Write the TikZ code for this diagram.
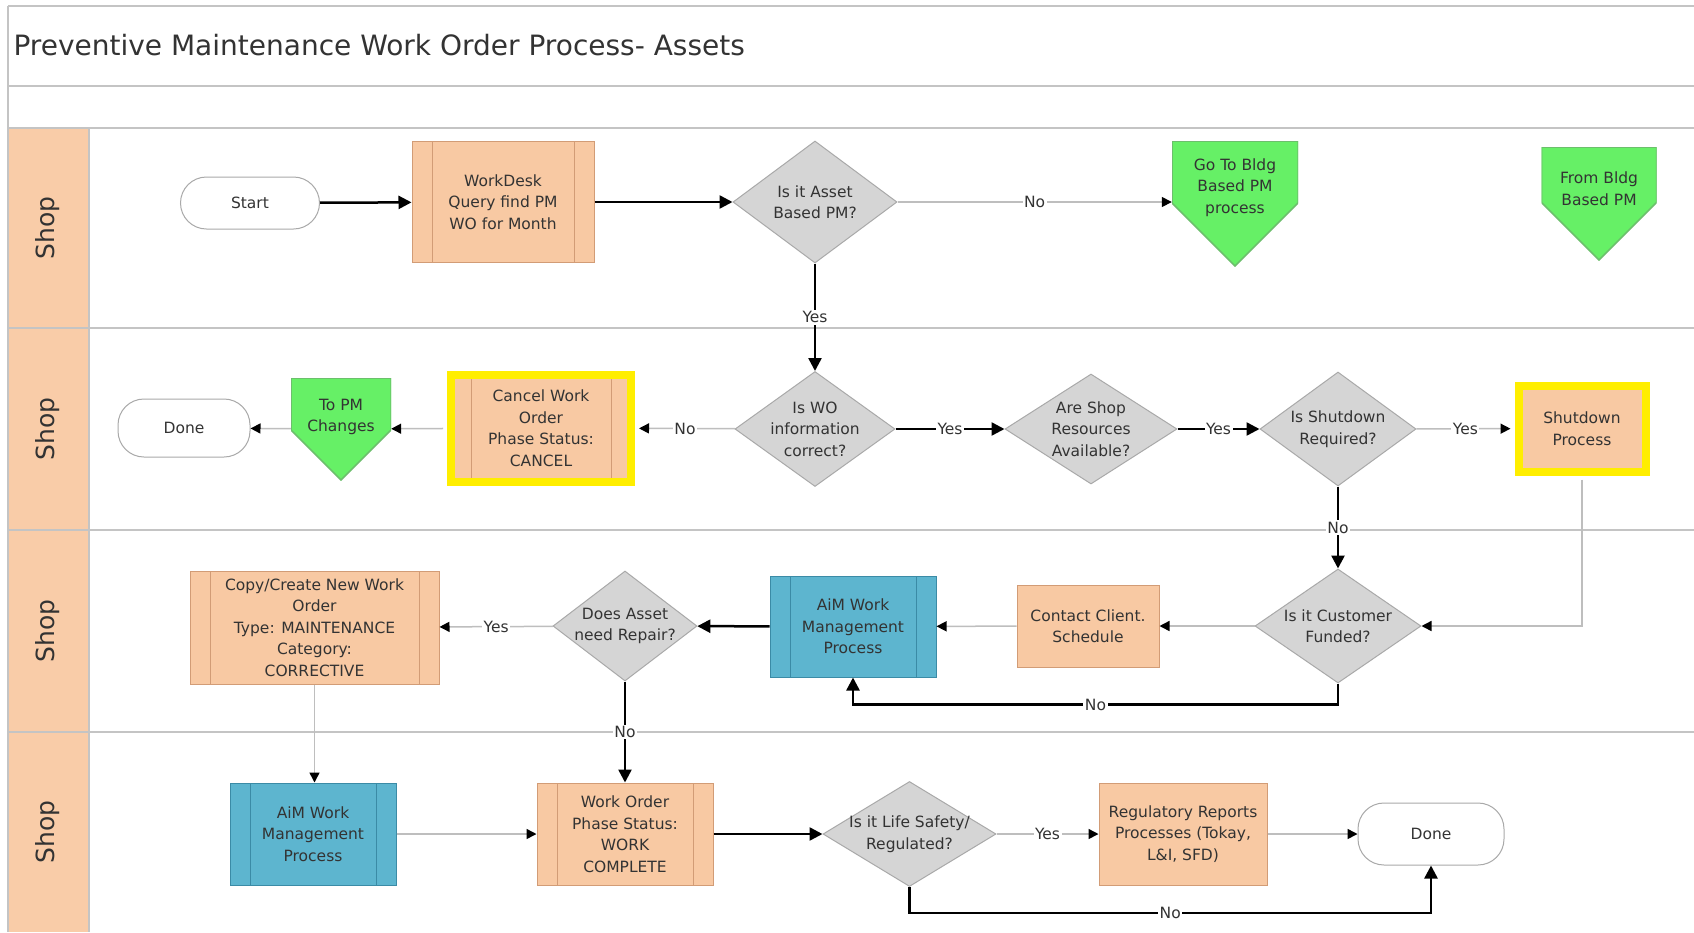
\documentclass[tikz,border=0pt]{standalone}
\usepackage{fontspec}
\setmainfont{DejaVu Sans}
\usetikzlibrary{shapes.geometric,arrows.meta,calc}

\definecolor{peach}{HTML}{F8C9A3}
\definecolor{peachline}{HTML}{D29C76}
\definecolor{lanefill}{HTML}{F9CCA8}
\definecolor{leaf}{HTML}{66F066}
\definecolor{leafline}{HTML}{6CBF6C}
\definecolor{qfill}{HTML}{D5D5D5}
\definecolor{qline}{HTML}{A9A9A9}
\definecolor{aim}{HTML}{5DB5CF}
\definecolor{aimline}{HTML}{3B8BA6}
\definecolor{hilite}{HTML}{FFEE00}
\definecolor{wire}{HTML}{BEBEBE}
\definecolor{laneline}{HTML}{C4C4C4}
\definecolor{ink}{HTML}{333333}

\newcommand{\boxfont}{\fontsize{15.5}{21.5}\selectfont}
\newcommand{\titlefont}{\fontsize{28}{34}\selectfont}
\newcommand{\lanefont}{\fontsize{25}{30}\selectfont}

\tikzset{
  box/.style={rectangle, fill=peach, draw=peachline, line width=1pt, text=ink,
    font=\boxfont, align=center, inner sep=0pt},
  sub/.style={box, path picture={
      \draw[#1, line width=1pt] ([xshift=20pt]path picture bounding box.north west)
        -- ([xshift=20pt]path picture bounding box.south west);
      \draw[#1, line width=1pt] ([xshift=-20pt]path picture bounding box.north east)
        -- ([xshift=-20pt]path picture bounding box.south east);}},
  sub/.default=peachline,
  aimbox/.style={sub=aimline, fill=aim, draw=aimline},
  flagged/.style={draw=hilite, line width=8pt},
  quest/.style={diamond, fill=qfill, draw=qline, line width=1pt, text=ink,
    font=\boxfont, align=center, inner xsep=-20pt, inner ysep=-14pt},
  term/.style={rectangle, rounded corners=26pt, fill=white, draw=qline,
    line width=1pt, text=ink, font=\boxfont, inner sep=0pt},
  offpage/.style={rectangle, fill=white, inner sep=0pt, path picture={
      \filldraw[draw=leafline, fill=leaf, line width=1.5pt]
        let \p1=(path picture bounding box.north west),
            \p2=(path picture bounding box.south east),
            \n1={(\x2-\x1)/2}
        in (\p1) -- (\x2,\y1) -- (\x2,\y2+\n1) -- (\x1+\n1,\y2) -- (\x1,\y2+\n1) -- cycle;}},
  flagtext/.style={font=\boxfont, text=ink, align=center},
  lanelabel/.style={rotate=90, font=\lanefont, text=ink},
  mainflow/.style={draw=black, line width=2.5pt, -{Triangle[length=13pt, width=13pt]}},
  sideflow/.style={draw=wire, line width=1.5pt, -{Triangle[length=10pt, width=10pt, color=black]}},
  tag/.style={fill=white, inner sep=1.5pt, text=ink, font=\boxfont}
}

\begin{document}
\begin{tikzpicture}[x=1pt, y=-1pt]
  \useasboundingbox (0,0) rectangle (1694,932);
  \fill[white] (0,0) rectangle (1694,932);

  % pool and lanes
  \fill[lanefill] (8,128) rectangle (89,932);
  \draw[laneline, line width=2pt] (8,6) -- (1694,6);
  \draw[laneline, line width=2pt] (8,6) -- (8,932);
  \draw[laneline, line width=1.5pt] (89,128) -- (89,932);
  \foreach \y in {86,128,328,530,732}
    \draw[laneline, line width=1.5pt] (8,\y) -- (1694,\y);
  \foreach \y/\n in {228/1, 429/2, 631/3, 832/4}
    \node[lanelabel] at (48,\y) (lane\n) {Shop};

  \node[anchor=base west, font=\titlefont, text=ink] at (10,55) (title)
    {Preventive Maintenance Work Order Process- Assets};

  % lane 1
  \node[term, minimum width=139pt, minimum height=52pt] at (250,203) (start) {Start};
  \node[sub, minimum width=182pt, minimum height=121pt] at (503,202) (workdesk)
    {WorkDesk\\Query find PM\\WO for Month};
  \node[quest, minimum width=164pt, minimum height=122pt] at (815,202) (assetq)
    {Is it Asset\\Based PM?};
  \node[offpage, minimum width=126pt, minimum height=125pt,
    label={[flagtext, yshift=16pt]center:Go To Bldg\\Based PM\\process}]
    at (1235,203.5) (gobldg) {};
  \node[offpage, minimum width=115pt, minimum height=113pt,
    label={[flagtext, yshift=15pt]center:From Bldg\\Based PM}]
    at (1599,203.5) (frombldg) {};

  % lane 2
  \node[term, minimum width=132pt, minimum height=58pt] at (184,428) (done1) {Done};
  \node[offpage, minimum width=100pt, minimum height=102pt,
    label={[flagtext, yshift=12pt]center:To PM\\Changes}]
    at (341,429) (topm) {};
  \node[sub, flagged, minimum width=180pt, minimum height=107pt] at (541,428) (cancel)
    {Cancel Work\\Order\\Phase Status:\\CANCEL};
  \node[quest, minimum width=160pt, minimum height=115pt] at (815,429) (woq)
    {Is WO\\information\\correct?};
  \node[quest, minimum width=172pt, minimum height=110pt] at (1091,429) (shopq)
    {Are Shop\\Resources\\Available?};
  \node[quest, minimum width=156pt, minimum height=114pt] at (1338,429) (shutq)
    {Is Shutdown\\Required?};
  \node[box, flagged, minimum width=127pt, minimum height=86pt] at (1582,428.5) (shutdown)
    {Shutdown\\Process};

  % lane 3
  \node[sub, minimum width=249pt, minimum height=113pt] at (314.5,627.5) (copy)
    {Copy/Create New Work\\Order\\Type: MAINTENANCE\\Category:\\CORRECTIVE};
  \node[quest, minimum width=144pt, minimum height=110pt] at (625,626) (repairq)
    {Does Asset\\need Repair?};
  \node[aimbox, minimum width=166pt, minimum height=101pt] at (853,626.5) (aim1)
    {AiM Work\\Management\\Process};
  \node[box, minimum width=142pt, minimum height=82pt] at (1088,626) (contact)
    {Contact Client.\\Schedule};
  \node[quest, minimum width=166pt, minimum height=114pt] at (1338,626) (custq)
    {Is it Customer\\Funded?};

  % lane 4
  \node[aimbox, minimum width=166pt, minimum height=102pt] at (313,834) (aim2)
    {AiM Work\\Management\\Process};
  \node[sub, minimum width=176pt, minimum height=102pt] at (625,834) (wocomplete)
    {Work Order\\Phase Status:\\WORK\\COMPLETE};
  \node[quest, minimum width=173pt, minimum height=105pt] at (909.5,834) (lifeq)
    {Is it Life Safety/\\Regulated?};
  \node[box, minimum width=168pt, minimum height=102pt] at (1183,834) (regul)
    {Regulatory Reports\\Processes (Tokay,\\L\&I, SFD)};
  \node[term, minimum width=146pt, minimum height=62pt] at (1431,834) (done2) {Done};

  % connectors
  \draw[mainflow] (start) -- (workdesk);
  \draw[mainflow] (workdesk) -- (assetq);
  \draw[sideflow] (assetq.east) -- node[tag] {No} (assetq.east -| gobldg.west);
  \draw[mainflow] (assetq) -- node[tag] {Yes} (woq);
  \draw[sideflow, shorten >=4pt] (woq) -- node[tag] {No} (cancel);
  \draw[sideflow, shorten <=4pt] (cancel) -- (topm);
  \draw[sideflow] (topm) -- (done1);
  \draw[mainflow] (woq) -- node[tag] {Yes} (shopq);
  \draw[mainflow] (shopq) -- node[tag] {Yes} (shutq);
  \draw[sideflow, shorten >=4pt] (shutq) -- node[tag] {Yes} (shutdown);
  \draw[mainflow] (shutq) -- node[tag] {No} (custq);
  \draw[sideflow, shorten <=4pt] (shutdown) |- (custq);
  \draw[sideflow] (custq) -- (contact);
  \draw[sideflow] (contact) -- (aim1);
  \draw[mainflow] (aim1) -- (repairq);
  \draw[sideflow] (repairq) -- node[tag] {Yes} (copy);
  \draw[mainflow] (custq.south) -- ++(0,21) -| node[tag, pos=0.25] {No} (aim1.south);
  \draw[mainflow] (repairq) -- node[tag] {No} (wocomplete);
  \draw[sideflow] (copy) -- (copy |- aim2.north);
  \draw[sideflow] (aim2) -- (wocomplete);
  \draw[mainflow] (wocomplete) -- (lifeq);
  \draw[sideflow] (lifeq) -- node[tag] {Yes} (regul);
  \draw[sideflow] (regul) -- (done2);
  \draw[mainflow] (lifeq.south) -- ++(0,26) -| node[tag, pos=0.25] {No} (done2.south);
\end{tikzpicture}
\end{document}
